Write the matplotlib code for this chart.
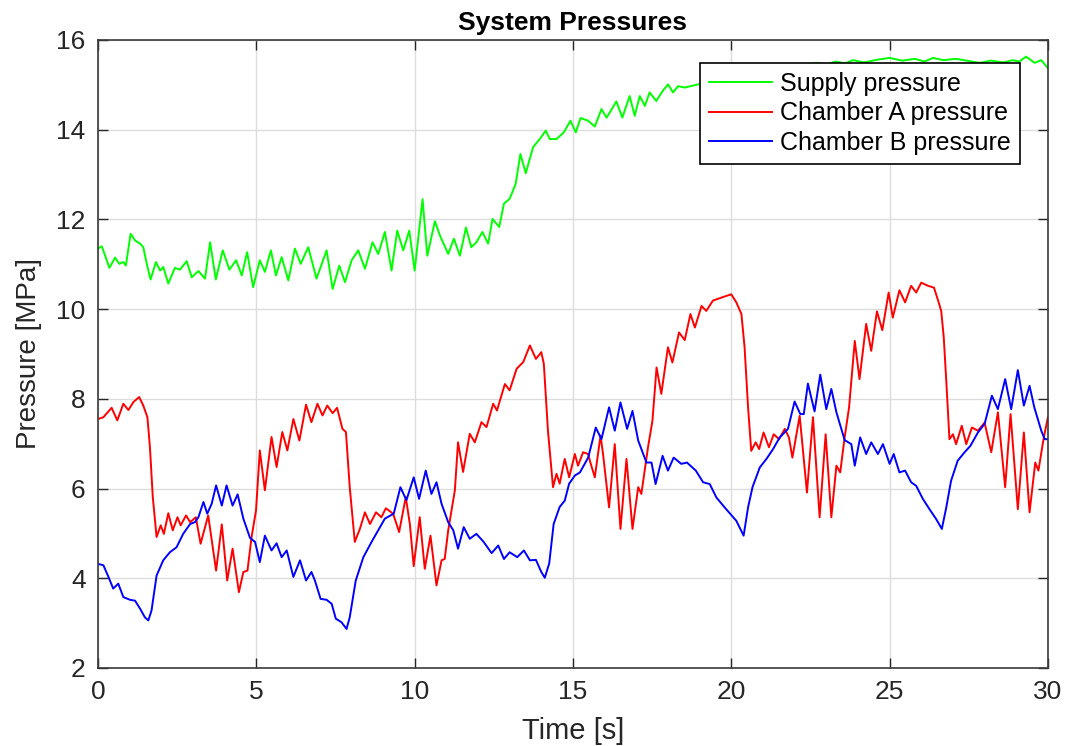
import matplotlib.pyplot as plt

# Supply line pressure, time in s and pressure in MPa
supply_time = [0, 0.12, 0.22, 0.36, 0.54, 0.67, 0.8, 0.88, 1.03, 1.17,
               1.33, 1.43, 1.54, 1.66, 1.83, 1.96, 2.06, 2.22, 2.43, 2.59,
               2.8, 2.96, 3.17, 3.38, 3.54, 3.72, 3.94, 4.15, 4.36, 4.54,
               4.71, 4.9, 5.11, 5.27, 5.46, 5.62, 5.8, 6.01, 6.22, 6.4,
               6.64, 6.9, 7.22, 7.41, 7.62, 7.8, 8.01, 8.22, 8.43, 8.67,
               8.85, 9.06, 9.27, 9.45, 9.64, 9.83, 10.0, 10.25, 10.4, 10.64,
               10.8, 11.06, 11.24, 11.43, 11.62, 11.79, 11.95, 12.14, 12.32, 12.46,
               12.67, 12.82, 13.0, 13.19, 13.34, 13.51, 13.74, 13.95, 14.14, 14.27,
               14.48, 14.71, 14.92, 15.09, 15.24, 15.48, 15.69, 15.9, 16.06, 16.16,
               16.37, 16.56, 16.79, 16.95, 17.11, 17.27, 17.42, 17.63, 17.84, 18.0,
               18.16, 18.32, 18.53, 19.5, 20.5, 21.5, 22.3, 22.74, 23.0, 23.3,
               23.6, 23.84, 24.2, 24.6, 25.0, 25.4, 25.8, 26.1, 26.37, 26.7,
               27.1, 27.5, 27.84, 28.2, 28.6, 28.89, 29.1, 29.31, 29.58, 29.79,
               30.0]
supply_pressure = [11.35, 11.4, 11.2, 10.92, 11.15, 11.01, 11.05, 10.97, 11.68, 11.53,
                   11.46, 11.38, 11.01, 10.66, 11.05, 10.86, 10.94, 10.57, 10.92, 10.88,
                   11.07, 10.71, 10.85, 10.68, 11.49, 10.66, 11.31, 10.88, 11.09, 10.75,
                   11.27, 10.49, 11.09, 10.83, 11.31, 10.75, 11.16, 10.64, 11.35, 11.01,
                   11.38, 10.68, 11.31, 10.45, 10.97, 10.6, 11.09, 11.31, 10.9, 11.49,
                   11.23, 11.72, 10.86, 11.75, 11.31, 11.75, 10.86, 12.45, 11.19, 11.96,
                   11.64, 11.23, 11.57, 11.19, 11.82, 11.38, 11.49, 11.72, 11.46, 12.01,
                   11.83, 12.35, 12.46, 12.79, 13.46, 13.03, 13.61, 13.79, 13.98, 13.79,
                   13.79, 13.94, 14.2, 13.94, 14.26, 14.2, 14.07, 14.46, 14.27, 14.38,
                   14.63, 14.27, 14.75, 14.31, 14.75, 14.53, 14.83, 14.64, 14.87, 15.01,
                   14.83, 14.97, 14.94, 15.1, 15.25, 15.38, 15.45, 15.49, 15.45, 15.52,
                   15.48, 15.55, 15.5, 15.56, 15.6, 15.54, 15.58, 15.52, 15.6, 15.55,
                   15.58, 15.53, 15.49, 15.54, 15.5, 15.55, 15.52, 15.63, 15.49, 15.55,
                   15.37]

# Chamber A pressure
chamber_a_time = [0, 0.17, 0.43, 0.61, 0.8, 0.96, 1.12, 1.3, 1.43, 1.56,
                  1.64, 1.73, 1.85, 1.98, 2.08, 2.22, 2.36, 2.51, 2.61, 2.78,
                  2.91, 3.09, 3.24, 3.48, 3.73, 3.91, 4.08, 4.25, 4.45, 4.59,
                  4.72, 4.85, 4.99, 5.11, 5.27, 5.48, 5.64, 5.82, 5.98, 6.17,
                  6.36, 6.57, 6.74, 6.93, 7.09, 7.24, 7.41, 7.55, 7.72, 7.83,
                  7.95, 8.11, 8.27, 8.43, 8.59, 8.78, 8.95, 9.09, 9.32, 9.51,
                  9.72, 9.85, 9.97, 10.16, 10.32, 10.5, 10.69, 10.85, 10.95, 11.06,
                  11.27, 11.37, 11.53, 11.74, 11.9, 12.11, 12.27, 12.48, 12.6, 12.85,
                  13.0, 13.22, 13.43, 13.64, 13.83, 14.0, 14.08, 14.21, 14.37, 14.48,
                  14.58, 14.74, 14.88, 15.06, 15.16, 15.32, 15.48, 15.55, 15.69, 15.87,
                  15.95, 16.14, 16.32, 16.5, 16.69, 16.88, 17.06, 17.16, 17.37, 17.51,
                  17.64, 17.79, 18.0, 18.14, 18.35, 18.53, 18.71, 18.85, 19.06, 19.21,
                  19.42, 19.74, 20.0, 20.16, 20.32, 20.42, 20.53, 20.63, 20.77, 20.88,
                  21.02, 21.19, 21.34, 21.51, 21.69, 21.82, 21.93, 22.16, 22.39, 22.58,
                  22.79, 22.98, 23.16, 23.32, 23.44, 23.58, 23.72, 23.9, 24.05, 24.26,
                  24.42, 24.6, 24.77, 24.97, 25.1, 25.31, 25.49, 25.68, 25.84, 26.0,
                  26.21, 26.4, 26.52, 26.63, 26.71, 26.79, 26.89, 27.0, 27.1, 27.28,
                  27.42, 27.6, 27.79, 28.0, 28.21, 28.42, 28.65, 28.82, 29.05, 29.24,
                  29.42, 29.6, 29.7, 29.87, 30.0]
chamber_a_pressure = [7.55, 7.59, 7.8, 7.52, 7.89, 7.75, 7.93, 8.04, 7.85, 7.59,
                      6.92, 5.81, 4.92, 5.18, 4.99, 5.45, 5.07, 5.36, 5.18, 5.4,
                      5.25, 5.36, 4.77, 5.4, 4.17, 5.2, 3.95, 4.66, 3.69, 4.14,
                      4.17, 4.92, 5.51, 6.85, 5.96, 7.15, 6.48, 7.26, 6.85, 7.55,
                      7.07, 7.87, 7.48, 7.89, 7.63, 7.85, 7.68, 7.8, 7.33, 7.26,
                      6.03, 4.81, 5.1, 5.47, 5.21, 5.47, 5.36, 5.56, 5.44, 5.03,
                      5.81, 5.2, 4.27, 5.36, 4.21, 4.95, 3.84, 4.4, 4.43, 5.07,
                      5.96, 7.03, 6.37, 7.22, 7.03, 7.48, 7.37, 7.89, 7.74, 8.33,
                      8.19, 8.67, 8.82, 9.19, 8.89, 9.04, 8.78, 7.29, 6.03, 6.33,
                      6.11, 6.66, 6.25, 6.77, 6.51, 6.81, 6.77, 6.58, 6.25, 7.18,
                      6.77, 5.58, 6.99, 5.1, 6.66, 5.1, 6.03, 5.88, 6.92, 7.51,
                      8.7, 8.11, 9.15, 8.81, 9.48, 9.31, 9.89, 9.59, 10.07, 9.96,
                      10.19, 10.27, 10.33, 10.15, 9.89, 9.15, 7.81, 6.84, 7.03, 6.88,
                      7.25, 6.92, 7.21, 7.1, 7.33, 7.14, 6.69, 7.62, 5.91, 7.59,
                      5.36, 7.21, 5.36, 6.51, 6.36, 7.14, 7.81, 9.29, 8.44, 9.67,
                      9.07, 9.95, 9.53, 10.37, 9.81, 10.42, 10.15, 10.52, 10.37, 10.59,
                      10.52, 10.48, 10.22, 9.96, 9.37, 8.4, 7.1, 7.21, 6.99, 7.4,
                      6.99, 7.36, 7.29, 7.47, 6.81, 7.7, 6.03, 7.66, 5.54, 7.25,
                      5.47, 6.58, 6.4, 7.14, 7.59]

# Chamber B pressure
chamber_b_time = [0, 0.17, 0.33, 0.48, 0.64, 0.8, 1.01, 1.17, 1.33, 1.48,
                  1.59, 1.69, 1.85, 2.06, 2.27, 2.48, 2.69, 2.91, 3.06, 3.17,
                  3.33, 3.45, 3.59, 3.73, 3.91, 4.06, 4.25, 4.41, 4.59, 4.8,
                  4.96, 5.11, 5.27, 5.48, 5.64, 5.8, 5.96, 6.17, 6.38, 6.57,
                  6.74, 6.85, 7.03, 7.22, 7.38, 7.51, 7.69, 7.85, 7.95, 8.14,
                  8.38, 8.64, 8.85, 9.06, 9.34, 9.55, 9.74, 9.97, 10.14, 10.35,
                  10.53, 10.69, 10.85, 11.06, 11.22, 11.37, 11.55, 11.74, 11.95, 12.18,
                  12.43, 12.64, 12.82, 13.0, 13.24, 13.45, 13.64, 13.83, 14.0, 14.11,
                  14.25, 14.39, 14.58, 14.74, 14.88, 15.06, 15.22, 15.48, 15.72, 15.9,
                  16.14, 16.32, 16.5, 16.71, 16.88, 17.06, 17.32, 17.48, 17.61, 17.83,
                  18.0, 18.18, 18.42, 18.6, 18.88, 19.11, 19.32, 19.53, 19.79, 20.16,
                  20.39, 20.53, 20.67, 20.9, 21.11, 21.32, 21.53, 21.79, 22.0, 22.18,
                  22.29, 22.42, 22.63, 22.81, 23.0, 23.16, 23.32, 23.58, 23.79, 23.9,
                  24.07, 24.26, 24.42, 24.63, 24.79, 25.0, 25.13, 25.31, 25.49, 25.68,
                  25.84, 26.05, 26.26, 26.47, 26.65, 26.79, 26.94, 27.15, 27.37, 27.55,
                  27.79, 28.0, 28.23, 28.42, 28.65, 28.84, 29.05, 29.24, 29.42, 29.57,
                  29.79, 29.9, 30.0]
chamber_b_pressure = [4.32, 4.29, 4.03, 3.77, 3.88, 3.58, 3.52, 3.5, 3.32, 3.13,
                      3.06, 3.28, 4.06, 4.4, 4.58, 4.69, 4.99, 5.21, 5.25, 5.36,
                      5.7, 5.44, 5.66, 6.07, 5.62, 6.07, 5.62, 5.87, 5.33, 4.9,
                      4.81, 4.36, 4.95, 4.62, 4.78, 4.47, 4.62, 4.03, 4.4, 3.95,
                      4.14, 3.95, 3.54, 3.52, 3.43, 3.1, 3.02, 2.87, 3.13, 3.95,
                      4.47, 4.81, 5.07, 5.33, 5.44, 6.03, 5.74, 6.25, 5.77, 6.4,
                      5.88, 6.14, 5.66, 5.25, 5.07, 4.66, 5.14, 4.88, 4.99, 4.81,
                      4.56, 4.73, 4.43, 4.58, 4.47, 4.62, 4.4, 4.41, 4.14, 4.01,
                      4.33, 5.21, 5.59, 5.73, 6.11, 6.29, 6.36, 6.69, 7.36, 7.1,
                      7.81, 7.29, 7.92, 7.33, 7.73, 7.07, 6.58, 6.58, 6.1, 6.73,
                      6.4, 6.69, 6.55, 6.58, 6.4, 6.14, 6.1, 5.8, 5.58, 5.28,
                      4.95, 5.58, 6.03, 6.47, 6.66, 6.88, 7.14, 7.33, 7.94, 7.66,
                      7.66, 8.34, 7.72, 8.54, 7.77, 8.22, 7.7, 7.08, 6.99, 6.51,
                      7.14, 6.77, 7.03, 6.77, 6.99, 6.55, 6.77, 6.36, 6.4, 6.14,
                      6.06, 5.77, 5.54, 5.32, 5.1, 5.58, 6.17, 6.62, 6.81, 6.95,
                      7.25, 7.44, 8.07, 7.77, 8.44, 7.77, 8.64, 7.85, 8.29, 7.81,
                      7.29, 7.1, 7.1]

series_labels = ["Supply pressure", "Chamber A pressure", "Chamber B pressure"]
x_ticks = [0, 5, 10, 15, 20, 25, 30]
y_ticks = [2, 4, 6, 8, 10, 12, 14, 16]

plt.rcParams['font.family'] = ['Liberation Sans', 'DejaVu Sans']

text_color = '#262626'

fig = plt.figure(figsize=(10.77, 7.46), dpi=100)
ax = fig.add_axes([0.091, 0.1046, 0.882, 0.8418])

# Traces
ax.plot(supply_time, supply_pressure, color=(0, 1, 0), lw=1.4, label=series_labels[0])
ax.plot(chamber_a_time, chamber_a_pressure, color=(1, 0, 0), lw=1.4, label=series_labels[1])
ax.plot(chamber_b_time, chamber_b_pressure, color=(0, 0, 1), lw=1.4, label=series_labels[2])

ax.set_xlim(x_ticks[0], x_ticks[-1])
ax.set_ylim(y_ticks[0], y_ticks[-1])
ax.set_xticks(x_ticks)
ax.set_yticks(y_ticks)

# Boxed axes with inward ticks and a light grid
ax.grid(True, color='#dddddd', lw=1)
ax.set_axisbelow(True)
ax.tick_params(direction='in', top=True, right=True, length=7, width=1,
               color=text_color, labelcolor=text_color, labelsize=19, pad=9)
for spine in ax.spines.values():
    spine.set_color('#3a3a3a')
    spine.set_linewidth(1.2)

ax.set_xlabel('Time [s]', fontsize=21, color=text_color, labelpad=9)
ax.set_ylabel('Pressure [MPa]', fontsize=20, color=text_color, labelpad=10)
ax.set_title('System Pressures', fontsize=19, fontweight='bold', color='black', pad=7)

leg = ax.legend(loc='upper right', bbox_to_anchor=(0.9705, 0.963), borderaxespad=0,
                fontsize=18, fancybox=False, edgecolor='black', framealpha=1,
                handlelength=2.5, handletextpad=0.35, labelspacing=0.22,
                borderpad=0.35)
leg.get_frame().set_linewidth(1.2)

fig.savefig('out.png', dpi=100)
